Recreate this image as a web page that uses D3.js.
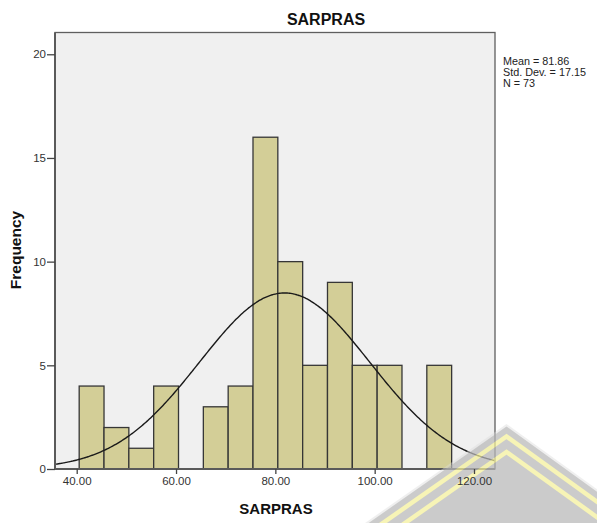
<!DOCTYPE html>
<html>
<head>
<meta charset="utf-8">
<script src="https://cdn.jsdelivr.net/npm/d3@7"></script>
<style>
  html, body { margin: 0; padding: 0; background: #ffffff; }
  svg { display: block; font-family: "Liberation Sans", Arial, sans-serif; }
</style>
</head>
<body>
<svg id="chart" width="597" height="523"></svg>
<script>
// ---- data ----
const binStarts = [40.5, 45.5, 50.5, 55.5, 60.5, 65.5, 70.5, 75.5, 80.5, 85.5, 90.5, 95.5, 100.5, 105.5, 110.5];
const binCounts = [4, 2, 1, 4, 0, 3, 4, 16, 10, 5, 9, 5, 5, 0, 5];
const binWidth = 5;
const statMean = 81.86;
const statSD = 17.15;
const statN = 73;
const xTicks = [40, 60, 80, 100, 120];
const yTicks = [0, 5, 10, 15, 20];
const statLines = ["Mean = 81.86", "Std. Dev. = 17.15", "N = 73"];

const svg = d3.select("#chart");
const L = 55, R = 495, T = 32.5, B = 469;

const x = d3.scaleLinear().domain([35.63, 124.23]).range([L, R]);
const y = d3.scaleLinear().domain([0, 21.05]).range([B, T]);

// plot background
svg.append("rect").attr("x", L).attr("y", T).attr("width", R - L).attr("height", B - T)
  .attr("fill", "#f0f0f0");

// bars
const bars = binStarts.map((s, i) => ({ s, c: binCounts[i] })).filter(d => d.c > 0);
svg.append("g").selectAll("rect").data(bars).join("rect")
  .attr("x", d => x(d.s))
  .attr("width", d => x(d.s + binWidth) - x(d.s))
  .attr("y", d => y(d.c))
  .attr("height", d => y(0) - y(d.c))
  .attr("fill", "#d3ce97")
  .attr("stroke", "#363636")
  .attr("stroke-width", 1.3);

// normal curve (from reported mean / sd)
const scaleK = statN * binWidth / (statSD * Math.sqrt(2 * Math.PI));
const xs = d3.range(x.domain()[0], x.domain()[1] + 0.001, 0.25);
const line = d3.line().x(v => x(v)).y(v => y(scaleK * Math.exp(-0.5 * Math.pow((v - statMean) / statSD, 2)))).curve(d3.curveBasis);
svg.append("path").datum(xs).attr("d", line)
  .attr("fill", "none").attr("stroke", "#1a1a1a").attr("stroke-width", 1.4);

// frame
svg.append("rect").attr("x", L).attr("y", T).attr("width", R - L).attr("height", B - T)
  .attr("fill", "none").attr("stroke", "#5f5f5f").attr("stroke-width", 1.3);
svg.append("line").attr("x1", L).attr("x2", L).attr("y1", T).attr("y2", B + 1)
  .attr("stroke", "#5a5a5a").attr("stroke-width", 2);
svg.append("line").attr("x1", L).attr("x2", R).attr("y1", B).attr("y2", B)
  .attr("stroke", "#5a5a5a").attr("stroke-width", 2);

// watermark chevron (overlay in lower right corner, beneath the text)
const ax = 506.5, ay = 426.5, sl = 0.70, sr = 0.72;
const chev = d => [[300, ay + d + sl * (ax - 300)], [ax, ay + d], [640, ay + d + sr * (640 - ax)]];
const wm = svg.append("g").attr("opacity", 0.72);
wm.append("path")
  .attr("d", d3.line()(chev(-2.5).concat([[640, 560], [300, 560]])) + "Z")
  .attr("fill", "#dcdcdc").attr("opacity", 0.6);
wm.append("path")
  .attr("d", d3.line()(chev(0).concat([[640, 560], [300, 560]])) + "Z")
  .attr("fill", "#b8b8b8");
[10, 25.5].forEach(d => {
  wm.append("path").attr("d", d3.line()(chev(d))).attr("fill", "none")
    .attr("stroke", "#f4f09a").attr("stroke-width", 4.5);
});

// x axis
const xAxis = svg.append("g").attr("transform", `translate(0,${B})`)
  .call(d3.axisBottom(x).tickValues(xTicks).tickFormat(d3.format(".2f")).tickSize(5).tickPadding(3));
xAxis.select(".domain").remove();
xAxis.selectAll(".tick line").attr("stroke", "#444").attr("stroke-width", 1.3);
xAxis.selectAll(".tick text").attr("fill", "#333").style("font-size", "11.5px")
  .style("font-family", "Liberation Sans, Arial, sans-serif");

// y axis
const yAxis = svg.append("g").attr("transform", `translate(${L},0)`)
  .call(d3.axisLeft(y).tickValues(yTicks).tickSize(8).tickPadding(1));
yAxis.select(".domain").remove();
yAxis.selectAll(".tick line").attr("stroke", "#444").attr("stroke-width", 1.3);
yAxis.selectAll(".tick text").attr("fill", "#333").style("font-size", "11.5px")
  .style("font-family", "Liberation Sans, Arial, sans-serif");

// title & labels
svg.append("text").attr("x", 326).attr("y", 25).attr("text-anchor", "middle")
  .style("font-size", "16px").style("font-weight", "bold").attr("fill", "#111").text("SARPRAS");
svg.append("text").attr("x", 276).attr("y", 514).attr("text-anchor", "middle")
  .style("font-size", "15px").style("font-weight", "bold").attr("fill", "#111").text("SARPRAS");
svg.append("text").attr("transform", "translate(20.5,250) rotate(-90)").attr("text-anchor", "middle")
  .style("font-size", "15.5px").style("font-weight", "bold").attr("fill", "#111").text("Frequency");

// stats box text
svg.append("g").selectAll("text").data(statLines).join("text")
  .attr("x", 503).attr("y", (d, i) => 64.5 + i * 11)
  .style("font-size", "10.8px").attr("fill", "#222").text(d => d);
</script>
</body>
</html>
